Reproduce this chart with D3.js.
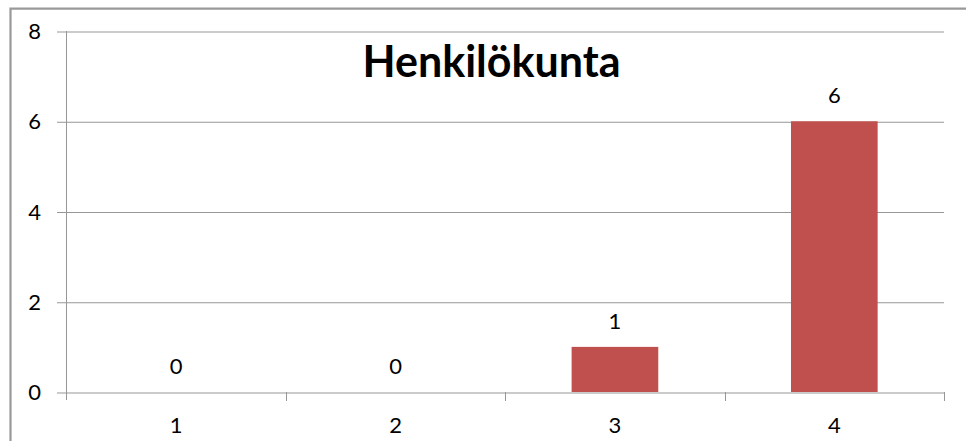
<!DOCTYPE html>
<html>
<head>
<meta charset="utf-8">
<script src="https://cdn.jsdelivr.net/npm/d3@7"></script>
<style>
  html, body { margin: 0; padding: 0; background: #fff; }
  svg { display: block; font-family: Lato, 'Noto Sans', sans-serif; }
</style>
</head>
<body>
<div id="chart"></div>
<script>
const categories = ['1', '2', '3', '4'];
const values = [0, 0, 1, 6];
const yTicks = [0, 2, 4, 6, 8];
const titleText = 'Henkilökunta';

(() => {
  const w = 969;
  const h = 441;
  const plot = { left: 66.5, right: 944, top: 31, bottom: 392 };
  const gridColor = '#979797';
  const labelSize = 22;

  const svg = d3.select('#chart')
    .append('svg')
    .attr('width', w)
    .attr('height', h);

  // outer frame (right and bottom edges are cut off in the picture)
  svg.append('path')
    .attr('d', `M10.5,${h} V8.7 H966`)
    .attr('fill', 'none')
    .attr('stroke', '#999')
    .attr('stroke-width', 2.2);

  const x = d3.scaleBand()
    .domain(categories)
    .range([plot.left, plot.right])
    .paddingInner(0.605)
    .paddingOuter(0.3025);

  const y = d3.scaleLinear()
    .domain([0, 8])
    .range([plot.bottom, plot.top]);

  // y gridlines, outside ticks and labels
  const yAxis = svg.append('g')
    .attr('transform', 'translate(57,0.5)')
    .call(d3.axisLeft(y)
      .tickValues(yTicks)
      .tickSizeInner(-(plot.right - 57))
      .tickSizeOuter(0)
      .tickPadding(16));
  yAxis.select('.domain').remove();
  yAxis.selectAll('line').attr('stroke', gridColor);
  yAxis.selectAll('text')
    .attr('font-size', labelSize)
    .attr('fill', '#000')
    .attr('font-family', 'Lato, sans-serif');

  // vertical axis line
  svg.append('line')
    .attr('x1', plot.left).attr('x2', plot.left)
    .attr('y1', plot.top).attr('y2', plot.bottom + 8)
    .attr('stroke', gridColor);

  // category boundary ticks
  const edges = categories.map(c => x(c) + x.bandwidth() / 2 - x.step() / 2)
    .concat([plot.right]);
  svg.selectAll('line.xtick')
    .data(edges.slice(1))
    .enter().append('line')
    .attr('class', 'xtick')
    .attr('x1', d => Math.round(d) + 0.5)
    .attr('x2', d => Math.round(d) + 0.5)
    .attr('y1', plot.bottom)
    .attr('y2', plot.bottom + 9)
    .attr('stroke', gridColor);

  // x labels
  const xAxis = svg.append('g')
    .attr('transform', `translate(0,${plot.bottom})`)
    .call(d3.axisBottom(x).tickSize(0).tickPadding(25));
  xAxis.select('.domain').remove();
  xAxis.selectAll('text')
    .attr('font-size', labelSize)
    .attr('fill', '#000')
    .attr('font-family', 'Lato, sans-serif');

  // bars
  svg.selectAll('rect.bar')
    .data(values)
    .enter().append('rect')
    .attr('class', 'bar')
    .attr('x', (d, i) => x(categories[i]))
    .attr('y', d => y(d))
    .attr('width', x.bandwidth())
    .attr('height', d => y(0) - y(d))
    .attr('fill', '#C0504D');

  // value labels
  svg.selectAll('text.val')
    .data(values)
    .enter().append('text')
    .attr('class', 'val')
    .attr('x', (d, i) => x(categories[i]) + x.bandwidth() / 2)
    .attr('y', d => y(d) - 18)
    .attr('text-anchor', 'middle')
    .attr('font-size', labelSize)
    .attr('fill', '#000')
    .text(d => d);

  svg.append('text')
    .attr('x', 491.5)
    .attr('y', 77)
    .attr('text-anchor', 'middle')
    .attr('font-size', 43)
    .attr('font-weight', 'bold')
    .attr('fill', '#000')
    .text(titleText);
})();
</script>
</body>
</html>
